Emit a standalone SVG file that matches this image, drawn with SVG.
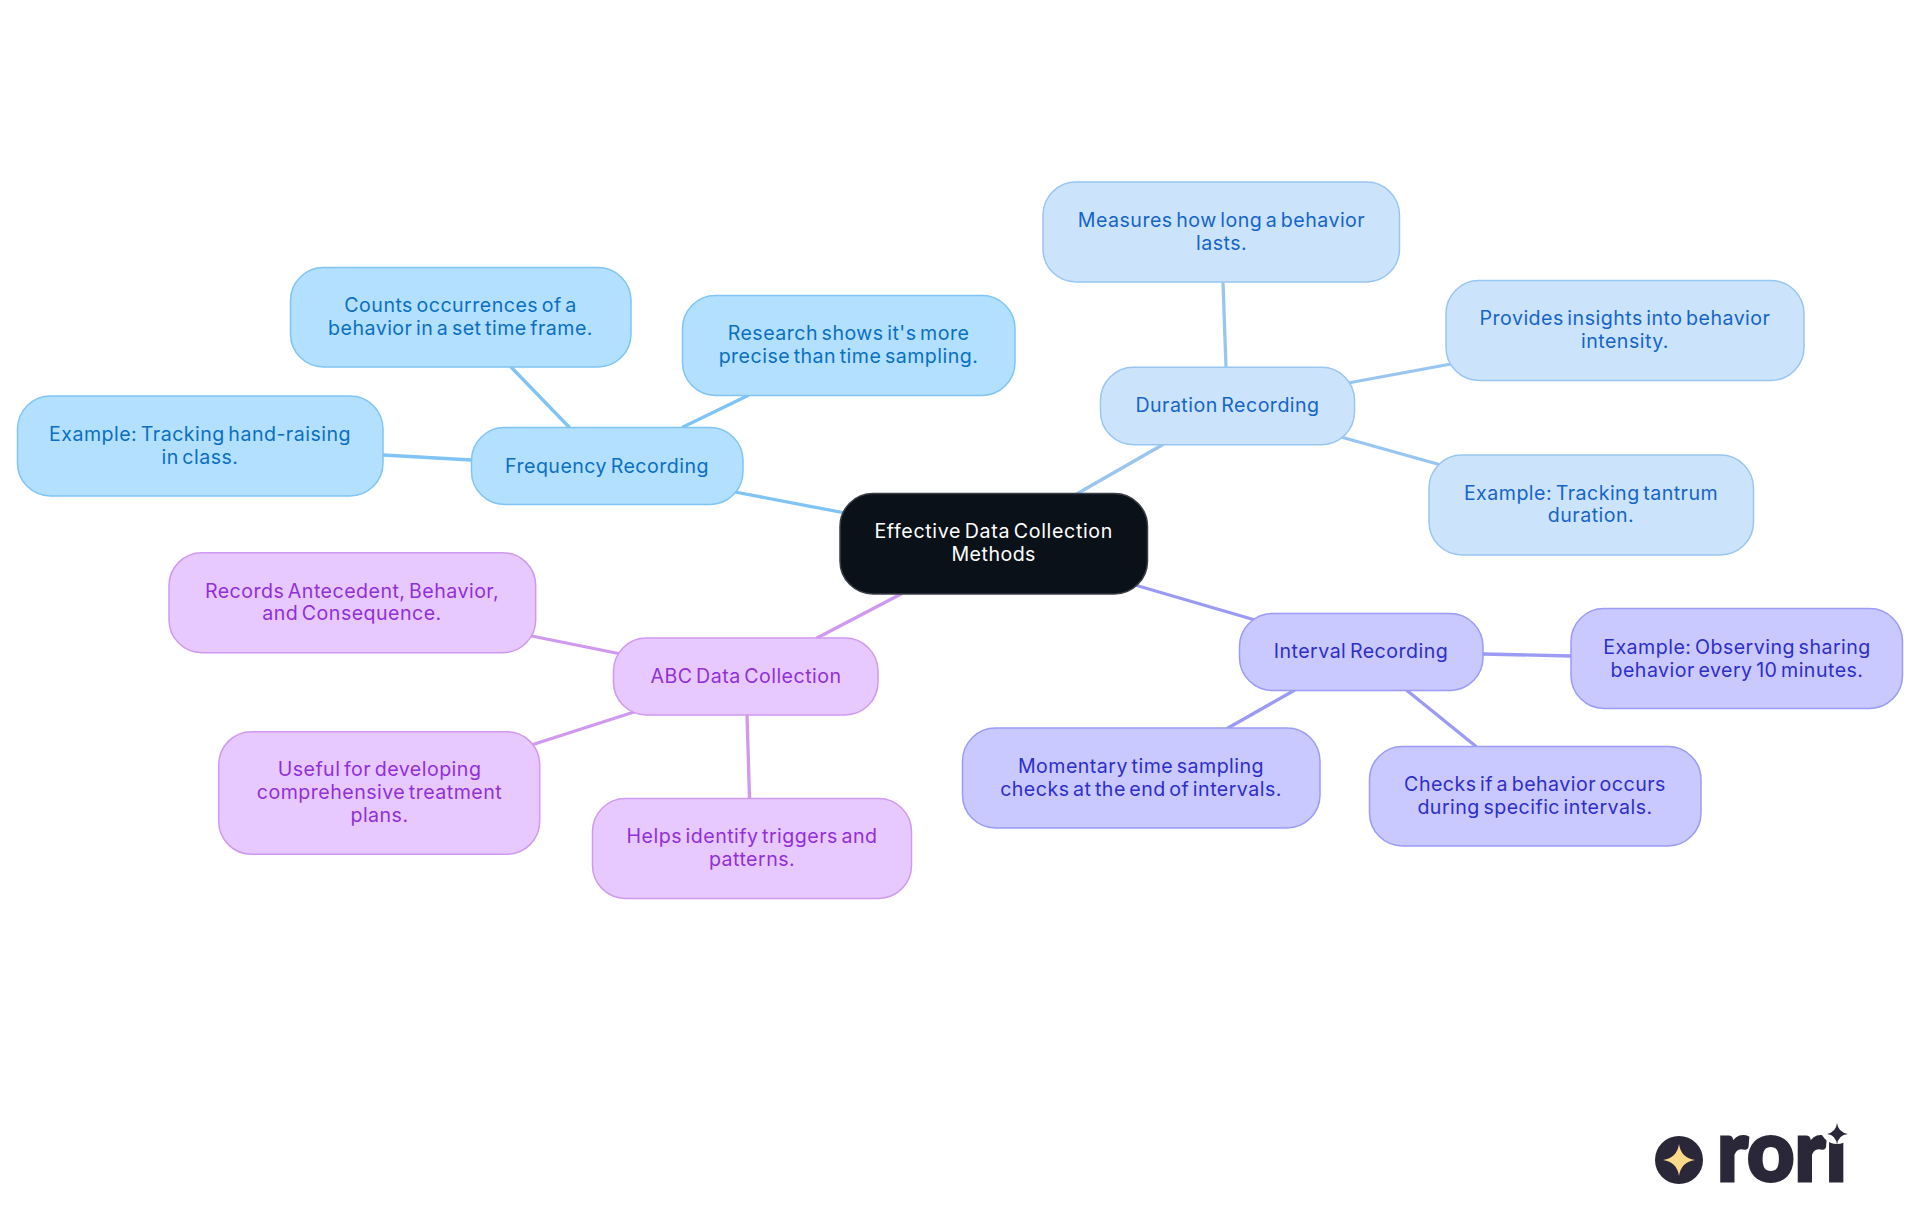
<svg xmlns="http://www.w3.org/2000/svg" width="1920" height="1215" viewBox="0 0 1920 1215">
<style>
text{font-family:"Inter","Noto Sans",sans-serif;font-size:19.6px;text-anchor:middle;letter-spacing:.47px;word-spacing:-2.4px}
rect{stroke-width:1.5}
.l{fill:none;stroke-width:3.3;stroke-linecap:round}
.f rect{fill:#b3e0ff;stroke:#80c4f5}.f text{fill:#0a6fc2}.lf{stroke:#80c4f5}
.d rect{fill:#cce3fc;stroke:#99c5f2}.d text{fill:#1565c8}.ld{stroke:#99c5f2}
.i rect{fill:#c9c9ff;stroke:#9b9bf5}.i text{fill:#2e2ec9}.li{stroke:#9b9bf5}
.a rect{fill:#e8c9ff;stroke:#cf99f0}.a text{fill:#9030d9}.la{stroke:#cf99f0}
</style>
<rect width="1920" height="1215" fill="#fff" stroke="none"/>
<g id="connectors">
<line class="l lf" x1="735" y1="492" x2="845" y2="513"/>
<line class="l ld" x1="1077.5" y1="493.5" x2="1163" y2="444.5"/>
<line class="l li" x1="1135" y1="585" x2="1255" y2="620"/>
<line class="l la" x1="901" y1="594" x2="817" y2="638"/>
<line class="l lf" x1="569" y1="427" x2="511" y2="367"/>
<line class="l lf" x1="683" y1="427" x2="748" y2="395.5"/>
<line class="l lf" x1="471.5" y1="460" x2="383" y2="455"/>
<line class="l ld" x1="1226" y1="367" x2="1223" y2="283"/>
<line class="l ld" x1="1348" y1="383" x2="1451" y2="364"/>
<line class="l ld" x1="1341" y1="437" x2="1441" y2="465"/>
<line class="l li" x1="1483" y1="654" x2="1571" y2="656"/>
<line class="l li" x1="1294" y1="690.5" x2="1228" y2="728"/>
<line class="l li" x1="1407" y1="690.5" x2="1475.5" y2="746"/>
<line class="l la" x1="621" y1="654" x2="529" y2="635.5"/>
<line class="l la" x1="635.5" y1="711.5" x2="533" y2="744.5"/>
<line class="l la" x1="747" y1="715" x2="749.5" y2="798"/>
</g>
<g id="root"><rect x="840" y="493.5" width="307.5" height="100.5" rx="33" fill="#0b1119" stroke="#3a3f47"/><text fill="#fff" x="993.7" y="538" style="letter-spacing:.65px">Effective Data Collection</text><text fill="#fff" x="993.7" y="561">Methods</text></g>
<g id="frequency" class="f"><rect x="471.5" y="427.5" width="271.5" height="77" rx="33"/><text x="607" y="472.5">Frequency Recording</text></g>
<g id="freq-counts" class="f"><rect x="290.5" y="267.5" width="340.5" height="99.5" rx="33"/><text x="460.5" y="312">Counts occurrences of a</text><text x="460.5" y="335">behavior in a set time frame.</text></g>
<g id="freq-research" class="f"><rect x="682.5" y="295.5" width="332.5" height="100" rx="33"/><text x="848.5" y="340">Research shows it's more</text><text x="848.5" y="363">precise than time sampling.</text></g>
<g id="freq-example" class="f"><rect x="17.5" y="396" width="365.5" height="100" rx="33"/><text x="200" y="441">Example: Tracking hand-raising</text><text x="200" y="464">in class.</text></g>
<g id="duration" class="d"><rect x="1100.5" y="367.3" width="254" height="77.4" rx="33"/><text x="1227.5" y="412">Duration Recording</text></g>
<g id="dur-measures" class="d"><rect x="1043" y="182" width="356.5" height="100" rx="33"/><text x="1221.5" y="226.5">Measures how long a behavior</text><text x="1221.5" y="249.5">lasts.</text></g>
<g id="dur-provides" class="d"><rect x="1446" y="280.5" width="358" height="100" rx="33"/><text x="1625" y="324.5">Provides insights into behavior</text><text x="1625" y="347.5">intensity.</text></g>
<g id="dur-example" class="d"><rect x="1429" y="455" width="324.5" height="100" rx="33"/><text x="1591" y="500">Example: Tracking tantrum</text><text x="1591" y="522">duration.</text></g>
<g id="interval" class="i"><rect x="1239.5" y="613.5" width="243.5" height="77" rx="33"/><text x="1361" y="658">Interval Recording</text></g>
<g id="int-example" class="i"><rect x="1571" y="608.5" width="331.5" height="100" rx="33"/><text x="1737" y="654">Example: Observing sharing</text><text x="1737" y="677">behavior every 10 minutes.</text></g>
<g id="int-momentary" class="i"><rect x="962.5" y="728" width="357.5" height="100" rx="33"/><text x="1141" y="773">Momentary time sampling</text><text x="1141" y="796">checks at the end of intervals.</text></g>
<g id="int-checks" class="i"><rect x="1369.5" y="746.5" width="331.5" height="99.5" rx="33"/><text x="1535" y="791">Checks if a behavior occurs</text><text x="1535" y="814">during specific intervals.</text></g>
<g id="abc" class="a"><rect x="613.5" y="638" width="264.5" height="77" rx="33"/><text x="746" y="682.5">ABC Data Collection</text></g>
<g id="abc-records" class="a"><rect x="169" y="552.7" width="366.7" height="100" rx="33"/><text x="352" y="597.5">Records Antecedent, Behavior,</text><text x="352" y="620">and Consequence.</text></g>
<g id="abc-useful" class="a"><rect x="218.7" y="731.7" width="321" height="122.6" rx="33"/><text x="379.5" y="776">Useful for developing</text><text x="379.5" y="799">comprehensive treatment</text><text x="379.5" y="822">plans.</text></g>
<g id="abc-helps" class="a"><rect x="592.5" y="798.5" width="319" height="100" rx="33"/><text x="752" y="843">Helps identify triggers and</text><text x="752" y="866">patterns.</text></g>
<g id="logo">
<circle cx="1679" cy="1160" r="24" fill="#2a2838"/>
<path d="M1679 1144Q1681 1158 1695 1160Q1681 1162 1679 1176Q1677 1162 1663 1160Q1677 1158 1679 1144Z" fill="#ffd98a"/>
<text x="1782" y="1181" textLength="130" lengthAdjust="spacingAndGlyphs" stroke="#2a2838" stroke-width="3" style="font-family:'Lato',sans-serif;font-weight:900;font-size:85px;letter-spacing:0;word-spacing:0" fill="#2a2838">rori</text>
<circle cx="1837" cy="1127" r="17" fill="#fff"/>
<path d="M1837 1123Q1838 1132 1848 1134Q1838 1135 1837 1145Q1836 1135 1827 1134Q1836 1132 1837 1123Z" fill="#2a2838"/>
</g>
</svg>
